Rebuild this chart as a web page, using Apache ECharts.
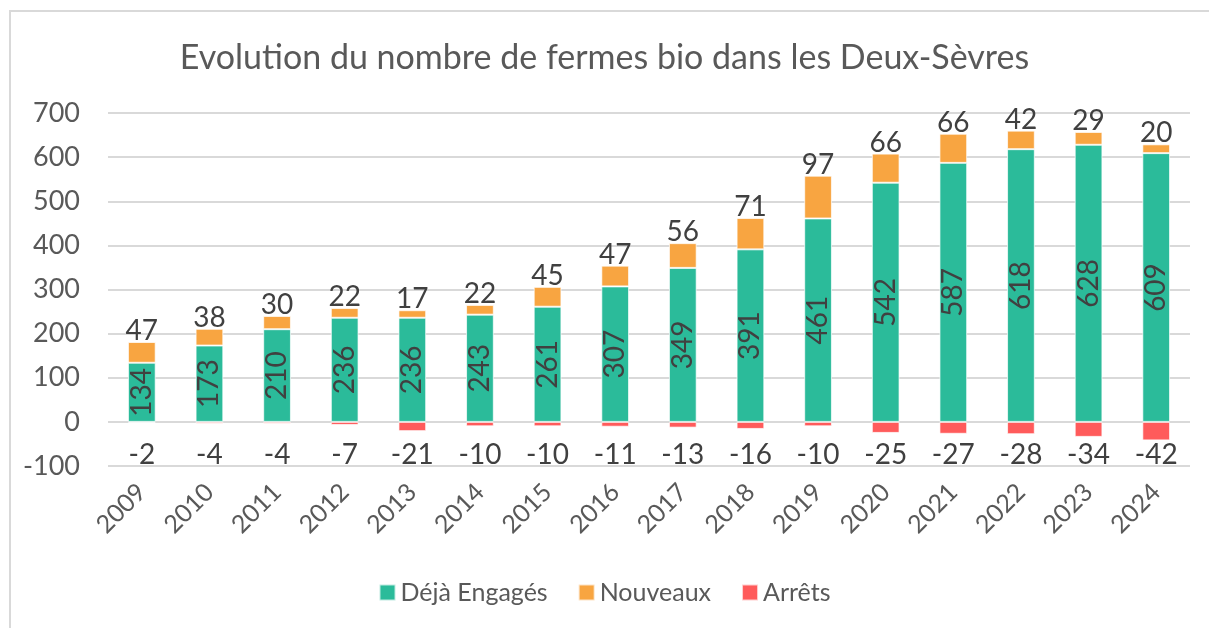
<!DOCTYPE html>
<html>
<head>
<meta charset="utf-8">
<script src="https://cdn.jsdelivr.net/npm/echarts@6/dist/echarts.min.js"></script>
<style>
  html, body { margin: 0; padding: 0; background: #fff; }
  #chart { width: 1209px; height: 628px; }
</style>
</head>
<body>
<div id="chart"></div>
<script>
const years = ["2009", "2010", "2011", "2012", "2013", "2014", "2015", "2016",
  "2017", "2018", "2019", "2020", "2021", "2022", "2023", "2024"];
const dejaEngages = [134, 173, 210, 236, 236, 243, 261, 307, 349, 391, 461, 542, 587, 618, 628, 609];
const nouveaux = [47, 38, 30, 22, 17, 22, 45, 47, 56, 71, 97, 66, 66, 42, 29, 20];
const arrets = [-2, -4, -4, -7, -21, -10, -10, -11, -13, -16, -10, -25, -27, -28, -34, -42];

const FONT = "Lato, 'Open Sans', sans-serif";
const labelFont = 28;
// the red labels all sit on one line below zero, like in the spreadsheet
const arretsLabelLevel = -75;

let dom = document.getElementById("chart");
let myChart = echarts.init(dom);

let option = {
  textStyle: { fontFamily: FONT },
  graphic: [
    {
      type: "rect",
      shape: { x: 10, y: 11, width: 1220, height: 700 },
      style: { fill: "none", stroke: "#d9d9d9", lineWidth: 2 },
      silent: true,
    },
  ],
  title: {
    text: "Evolution du nombre de fermes bio dans les Deux-Sèvres",
    left: "center",
    top: 36,
    textStyle: { fontFamily: FONT, fontSize: 34, fontWeight: "normal", color: "#595959" },
  },
  legend: {
    data: ["Déjà Engagés", "Nouveaux", "Arrêts"],
    bottom: 18,
    left: "center",
    itemWidth: 16,
    itemHeight: 16,
    itemGap: 30,
    icon: "rect",
    textStyle: { fontFamily: FONT, fontSize: 25, color: "#595959" },
  },
  grid: {
    left: 108,
    right: 19,
    top: 113,
    bottom: 162,
  },
  xAxis: {
    type: "category",
    data: years,
    axisLine: { show: false, onZero: false },
    axisTick: { show: false },
    axisLabel: {
      rotate: 45,
      margin: 22,
      fontFamily: FONT,
      fontSize: 25,
      color: "#595959",
    },
  },
  yAxis: {
    type: "value",
    min: -100,
    max: 700,
    interval: 100,
    axisLine: { show: false },
    axisTick: { show: false },
    axisLabel: { margin: 28, fontFamily: FONT, fontSize: 27, color: "#595959" },
    splitLine: { lineStyle: { color: "#d9d9d9", width: 2 } },
  },
  series: [
    {
      name: "Déjà Engagés",
      type: "bar",
      stack: "total",
      barWidth: "41%",
      data: dejaEngages,
      itemStyle: { color: "#2bbb9a", borderColor: "rgba(255,255,255,0.7)", borderWidth: 1 },
      label: {
        show: true,
        position: "inside",
        rotate: 90,
        fontFamily: FONT,
        fontSize: labelFont,
        color: "#404040",
      },
    },
    {
      name: "Nouveaux",
      type: "bar",
      stack: "total",
      data: nouveaux,
      itemStyle: { color: "#f8a541", borderColor: "rgba(255,255,255,0.7)", borderWidth: 1 },
      label: {
        show: true,
        position: "top",
        distance: -3,
        fontFamily: FONT,
        fontSize: labelFont,
        color: "#404040",
      },
    },
    {
      name: "Arrêts",
      type: "bar",
      stack: "total",
      data: arrets,
      itemStyle: { color: "#ff5b5b", borderColor: "rgba(255,255,255,0.7)", borderWidth: 1 },
      label: {
        show: true,
        position: "bottom",
        distance: 0,
        fontFamily: FONT,
        fontSize: labelFont,
        color: "#404040",
      },
    },
  ],
};

myChart.setOption(option);

// move each red label down to the common level
let arretsData = arrets.map((v, i) => {
  let yBar = myChart.convertToPixel({ gridIndex: 0 }, [i, v])[1];
  let yLevel = myChart.convertToPixel({ gridIndex: 0 }, [i, arretsLabelLevel])[1];
  return {
    value: v,
    label: { offset: [0, yLevel - yBar - labelFont / 2] },
  };
});
myChart.setOption({
  series: [{}, {}, { data: arretsData }],
});
</script>
</body>
</html>
